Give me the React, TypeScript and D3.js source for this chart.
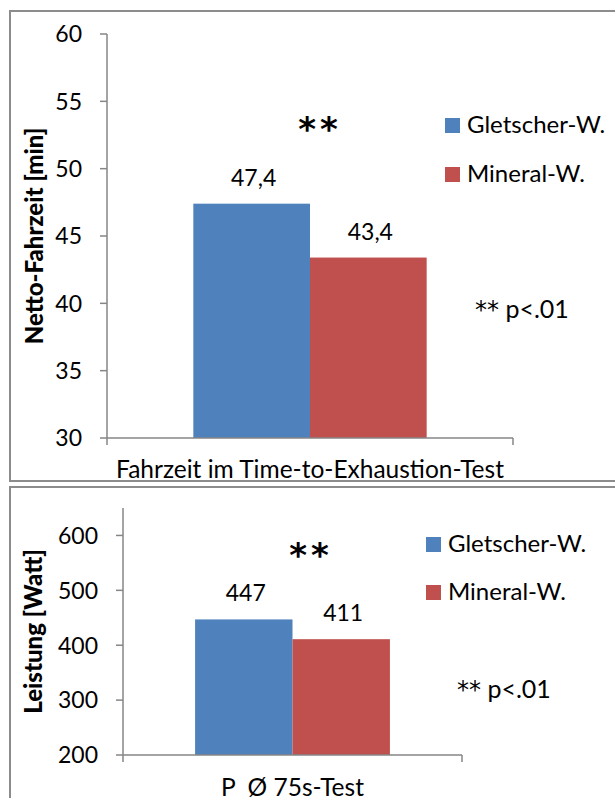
import * as d3 from 'd3'

// data
const seriesNames = ['Gletscher-W.', 'Mineral-W.']
const seriesColors = ['#4F81BD', '#C0504D']

const fahrzeitCategory = 'Fahrzeit im Time-to-Exhaustion-Test'
const fahrzeitValues = [47.4, 43.4]
const fahrzeitTicks = [30, 35, 40, 45, 50, 55, 60]

const leistungCategory = 'P  Ø 75s-Test'
const leistungValues = [447, 411]
const leistungTicks = [200, 300, 400, 500, 600]

const FONT = "Lato, 'Open Sans', sans-serif"
const STAR_FONT = "'DejaVu Sans', sans-serif"
const AXIS = '#868686'
const fmtComma = (v: number) => d3.format('.1f')(v).replace('.', ',')

interface PanelProps {
  box: { x: number; y: number; w: number; h: number }
  values: number[]
  ticks: number[]
  domain: [number, number]
  xRange: [number, number]
  yRange: [number, number]
  category: string
  catY: number
  yTitle: string
  yTitleX: number
  fmt: (v: number) => string
  star: { x: number; y: number }
  legend: { x: number; y: number; gap: number }
  note: { x: number; y: number }
}

function Panel(p: PanelProps) {
  const y = d3.scaleLinear().domain(p.domain).range(p.yRange)
  const band = d3.scaleBand<string>()
    .domain([p.category])
    .range(p.xRange)
    .paddingInner(0)
    .paddingOuter(0.37)
  const inner = d3.scaleBand<string>()
    .domain(seriesNames)
    .range([0, band.bandwidth()])
  const x0 = band(p.category) || 0
  const [left, right] = p.xRange
  const bottom = p.yRange[0]
  const titleCy = (p.yRange[0] + p.yRange[1]) / 2

  return (
    <g>
      <rect x={p.box.x} y={p.box.y} width={p.box.w} height={p.box.h}
        fill="#fff" stroke="#8c8c8c" strokeWidth={2} />

      {p.values.map((v, i) => (
        <rect key={i}
          x={x0 + (inner(seriesNames[i]) || 0)}
          y={y(v)}
          width={inner.bandwidth()}
          height={bottom - y(v)}
          fill={seriesColors[i]} />
      ))}
      {p.values.map((v, i) => (
        <text key={'l' + i}
          x={x0 + (inner(seriesNames[i]) || 0) + inner.bandwidth() / 2 + 2}
          y={y(v) - 18}
          textAnchor="middle" fontSize={23} fill="#000">{p.fmt(v)}</text>
      ))}

      {/* y axis */}
      <line x1={left} x2={left} y1={p.yRange[1]} y2={bottom} stroke={AXIS} strokeWidth={1.5} />
      {p.ticks.map(t => (
        <g key={t}>
          <line x1={left - 7} x2={left} y1={y(t)} y2={y(t)} stroke={AXIS} strokeWidth={1.5} />
          <text x={left - 25} y={y(t)} dy="0.36em" textAnchor="end" fontSize={23} fill="#000">{t}</text>
        </g>
      ))}

      {/* x axis */}
      <line x1={left} x2={right} y1={bottom} y2={bottom} stroke={AXIS} strokeWidth={1.5} />
      <line x1={left} x2={left} y1={bottom} y2={bottom + 7} stroke={AXIS} strokeWidth={1.5} />
      <line x1={right} x2={right} y1={bottom} y2={bottom + 7} stroke={AXIS} strokeWidth={1.5} />
      <text x={(left + right) / 2} y={p.catY} textAnchor="middle" fontSize={24.5} fill="#000"
        style={{ whiteSpace: 'pre' }}>{p.category}</text>

      <text transform={`translate(${p.yTitleX},${titleCy}) rotate(-90)`}
        textAnchor="middle" fontSize={24} fontWeight={900} fill="#000">{p.yTitle}</text>

      <text x={p.star.x} y={p.star.y} textAnchor="middle" fontSize={34} fontWeight="bold"
        fontFamily={STAR_FONT} letterSpacing={4} fill="#000">**</text>

      {seriesNames.map((s, i) => (
        <g key={s}>
          <rect x={p.legend.x} y={p.legend.y + i * p.legend.gap - 15} width={15} height={15} fill={seriesColors[i]} />
          <text x={p.legend.x + 22} y={p.legend.y + i * p.legend.gap} fontSize={24} fill="#000">{s}</text>
        </g>
      ))}

      <text x={p.note.x} y={p.note.y} fontSize={25} fill="#000">
        <tspan fontFamily={STAR_FONT} fontSize={24}>**</tspan> p&lt;.01
      </text>
    </g>
  )
}

export default function App() {
  return (
    <div style={{ position: 'absolute', left: 0, top: 0 }}>
      <svg width={615} height={798} style={{ display: 'block', fontFamily: FONT }}>
        <rect width={615} height={798} fill="#fff" />
        <Panel
          box={{ x: 10, y: 11, w: 620, h: 470 }}
          values={fahrzeitValues}
          ticks={fahrzeitTicks}
          domain={[30, 60]}
          xRange={[107, 513]}
          yRange={[438, 34]}
          category={fahrzeitCategory}
          catY={478}
          yTitle="Netto-Fahrzeit [min]"
          yTitleX={43}
          fmt={fmtComma}
          star={{ x: 320, y: 141 }}
          legend={{ x: 445, y: 133, gap: 49 }}
          note={{ x: 475, y: 318 }}
        />
        <Panel
          box={{ x: 10, y: 487, w: 620, h: 330 }}
          values={leistungValues}
          ticks={leistungTicks}
          domain={[200, 650]}
          xRange={[123, 462]}
          yRange={[755, 508]}
          category={leistungCategory}
          catY={796}
          yTitle="Leistung [Watt]"
          yTitleX={42}
          fmt={d3.format('d')}
          star={{ x: 311, y: 567 }}
          legend={{ x: 426, y: 552, gap: 48 }}
          note={{ x: 457, y: 698 }}
        />
      </svg>
    </div>
  )
}
